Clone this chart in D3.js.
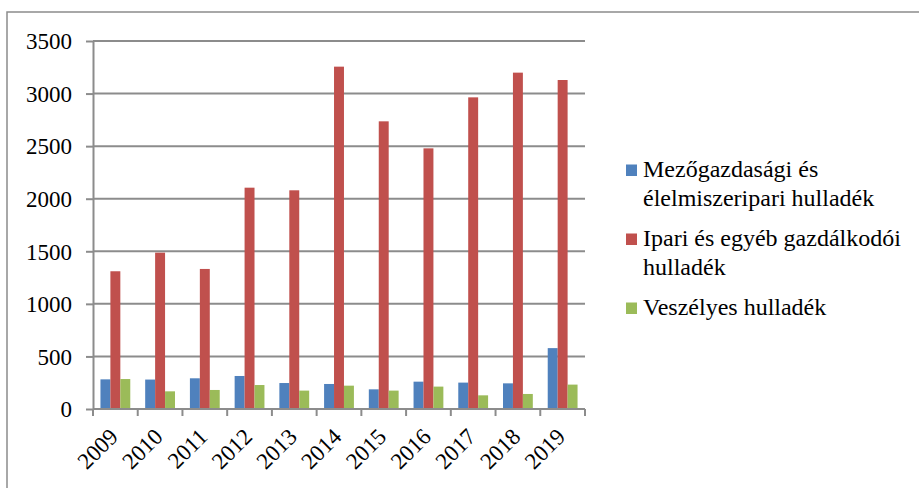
<!DOCTYPE html>
<html>
<head>
<meta charset="utf-8">
<script src="https://cdn.jsdelivr.net/npm/d3@7"></script>
<style>
  html, body { margin: 0; padding: 0; background: #fff; }
  svg { display: block; }
  svg text { font-family: "Liberation Serif" !important; }
</style>
</head>
<body>
<svg id="chart" width="919" height="488" font-family="Liberation Serif"></svg>
<script>
// Hulladék mennyisége évenként
const years = ["2009", "2010", "2011", "2012", "2013", "2014", "2015", "2016", "2017", "2018", "2019"];
const seriesNames = [
  ["Mezőgazdasági és", "élelmiszeripari hulladék"],
  ["Ipari és egyéb gazdálkodói", "hulladék"],
  ["Veszélyes hulladék"]
];
const agriFood   = [282, 280, 292, 314, 247, 238, 187, 260, 251, 244, 579];
const industrial = [1310, 1487, 1332, 2105, 2080, 3256, 2736, 2479, 2964, 3199, 3129];
const hazardous  = [285, 168, 181, 228, 175, 222, 175, 213, 130, 143, 232];
const yTicks = [0, 500, 1000, 1500, 2000, 2500, 3000, 3500];
const colors = ["#4F81BD", "#C0504D", "#9BBB59"];

const series = [agriFood, industrial, hazardous];
const svg = d3.select("#chart");
const grey = "#8c8c8c";

// outer frame
svg.append("rect")
  .attr("x", 7).attr("y", 12).attr("width", 1000).attr("height", 1000)
  .attr("fill", "none").attr("stroke", grey).attr("stroke-width", 1.5);

const plot = { left: 93, right: 585, top: 41, bottom: 409 };

const x = d3.scaleBand().domain(years)
  .range([plot.left, plot.right])
  .paddingInner(1 / 3).paddingOuter(1 / 6);
const xs = d3.scaleBand().domain(d3.range(series.length))
  .range([0, x.bandwidth()]);
const y = d3.scaleLinear().domain([0, 3500]).range([plot.bottom, plot.top]);

// horizontal gridlines
svg.append("g").selectAll("line").data(yTicks.slice(1)).join("line")
  .attr("x1", plot.left).attr("x2", plot.right)
  .attr("y1", d => y(d)).attr("y2", d => y(d))
  .attr("stroke", grey).attr("stroke-width", 2);

// bars
const groups = svg.append("g").selectAll("g").data(years).join("g")
  .attr("transform", d => `translate(${x(d)},0)`);
groups.selectAll("rect")
  .data((yr, i) => series.map((s, k) => ({ k, v: s[i] })))
  .join("rect")
  .attr("x", d => xs(d.k))
  .attr("width", xs.bandwidth())
  .attr("y", d => y(d.v))
  .attr("height", d => y(0) - y(d.v))
  .attr("fill", d => colors[d.k]);

// y axis
const yAxis = svg.append("g")
  .attr("transform", `translate(${plot.left},0)`)
  .call(d3.axisLeft(y).tickValues(yTicks).tickFormat(d3.format("d"))
    .tickSize(7).tickPadding(14).tickSizeOuter(0));
yAxis.attr("font-family", "Liberation Serif").attr("font-size", 23);
yAxis.select(".domain").attr("stroke", grey).attr("stroke-width", 2);
yAxis.selectAll(".tick line").attr("stroke", grey).attr("stroke-width", 2);
yAxis.selectAll(".tick text").attr("fill", "#000").attr("dy", "0.34em");

// x axis: baseline, tick marks at category boundaries, rotated labels
const bounds = years.map(d => x(d) - x.step() * x.paddingOuter()).concat([plot.right]);
svg.append("line")
  .attr("x1", plot.left).attr("x2", plot.right)
  .attr("y1", y(0)).attr("y2", y(0))
  .attr("stroke", grey).attr("stroke-width", 2);
svg.append("g").selectAll("line").data(bounds).join("line")
  .attr("x1", d => d).attr("x2", d => d)
  .attr("y1", y(0)).attr("y2", y(0) + 7)
  .attr("stroke", grey).attr("stroke-width", 2);
svg.append("g").selectAll("text").data(years).join("text")
  .attr("transform", d => `translate(${x(d) + x.bandwidth() / 2 + 4},${y(0) + 29}) rotate(-45)`)
  .attr("text-anchor", "end")
  .attr("font-family", "Liberation Serif")
  .attr("font-size", 23)
  .attr("fill", "#000")
  .text(d => d);

// legend
const legendBase = [177, 246, 315];
const legend = svg.append("g");
seriesNames.forEach((lines, k) => {
  const base = legendBase[k];
  legend.append("rect")
    .attr("x", 626).attr("y", base - 12.5).attr("width", 11).attr("height", 11.5)
    .attr("fill", colors[k]);
  lines.forEach((t, j) => {
    legend.append("text")
      .attr("x", 643).attr("y", base + j * 29)
      .attr("font-family", "Liberation Serif")
      .attr("font-size", 24)
      .attr("fill", "#000")
      .text(t);
  });
});
</script>
</body>
</html>
